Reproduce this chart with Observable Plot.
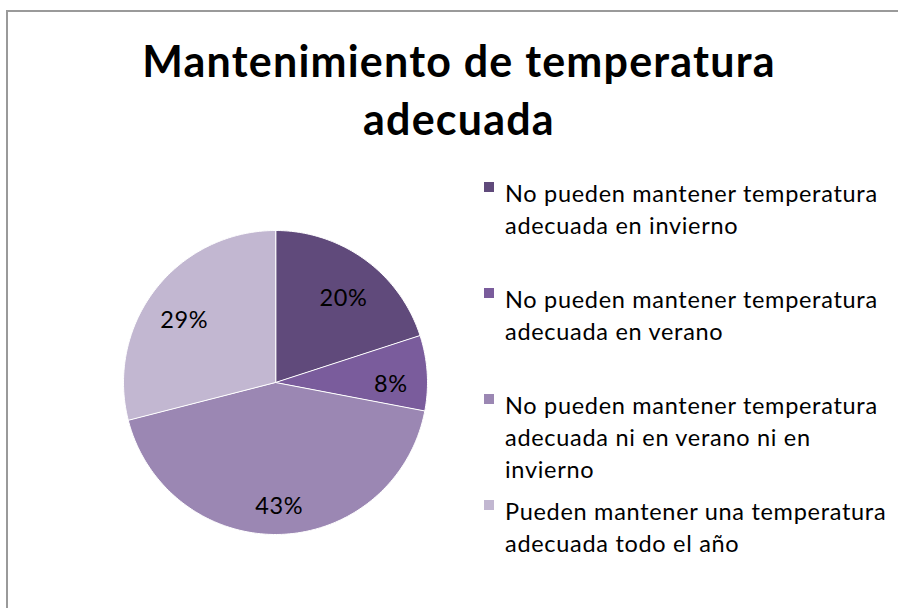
<!DOCTYPE html>
<html>
<head>
<meta charset="utf-8">
<script src="https://cdn.jsdelivr.net/npm/d3@7"></script>
<script src="https://cdn.jsdelivr.net/npm/@observablehq/plot@0.6"></script>
<style>
  html, body { margin: 0; padding: 0; background: #fff; }
  #wrap { position: relative; width: 898px; height: 608px; overflow: hidden; font-family: Lato, "Open Sans", sans-serif; }
  #frame { position: absolute; left: 6px; top: 10px; width: 1000px; height: 1000px; border: 2px solid #9a9a9a; box-sizing: border-box; }
  #chart { position: absolute; left: 0; top: 0; }
  #title { position: absolute; left: 20px; width: 878px; top: 32px; text-align: center; font-weight: bold; font-size: 43px; letter-spacing: 1.2px; line-height: 58px; color: #000; }
  #legend { position: absolute; left: 484px; top: 177px; }
  .entry { position: relative; height: 106px; }
  .sw { position: absolute; left: 0; top: 5px; width: 10px; height: 10px; }
  .lab { position: absolute; left: 21px; top: 0; white-space: pre; font-size: 23.5px; letter-spacing: 0.7px; line-height: 32px; color: #000; }
</style>
</head>
<body>
<div id="wrap">
  <div id="frame"></div>
  <div id="chart"></div>
  <div id="title"></div>
  <div id="legend"></div>
</div>
<script>
const title = "Mantenimiento de temperatura\nadecuada";
const categories = [
  "No pueden mantener temperatura adecuada en invierno",
  "No pueden mantener temperatura adecuada en verano",
  "No pueden mantener temperatura adecuada ni en verano ni en invierno",
  "Pueden mantener una temperatura adecuada todo el año"
];
const legendLabels = [
  "No pueden mantener temperatura\nadecuada en invierno",
  "No pueden mantener temperatura\nadecuada en verano",
  "No pueden mantener temperatura\nadecuada ni en verano ni en\ninvierno",
  "Pueden mantener una temperatura\nadecuada todo el año"
];
const values = [20, 8, 43, 29];
const valueLabels = ["20%", "8%", "43%", "29%"];
const colors = ["#604a7b", "#7a5c9c", "#9b87b3", "#c2b7d1"];

// slice geometry from values via d3.pie
const arcs = d3.pie().sort(null).value(d => d)(values);
const slicePts = [];
arcs.forEach((a, i) => {
  const cat = categories[i];
  slicePts.push({cat, x: 0, y: 0});
  const n = Math.max(2, Math.ceil((a.endAngle - a.startAngle) / (Math.PI / 180)));
  for (let k = 0; k <= n; k++) {
    const t = a.startAngle + (a.endAngle - a.startAngle) * k / n;
    slicePts.push({cat, x: Math.sin(t), y: Math.cos(t)});
  }
});
const labelR = 0.76;
const labelData = arcs.map((a, i) => {
  const t = (a.startAngle + a.endAngle) / 2;
  return {text: valueLabels[i], x: labelR * Math.sin(t), y: labelR * Math.cos(t)};
});

const plot = Plot.plot({
  width: 898,
  height: 608,
  marginLeft: 123,
  marginRight: 471,
  marginTop: 230,
  marginBottom: 74,
  x: {domain: [-1, 1], axis: null},
  y: {domain: [-1, 1], axis: null},
  color: {type: "ordinal", domain: categories, range: colors},
  style: {fontFamily: "Lato, 'Open Sans', sans-serif", background: "transparent"},
  marks: [
    Plot.line(slicePts, {x: "x", y: "y", z: "cat", fill: "cat", stroke: "white", strokeWidth: 1, curve: "linear-closed"}),
    Plot.text(labelData, {x: "x", y: "y", text: "text", fontSize: 23.5, letterSpacing: 0.6, dy: 9, fill: "black"})
  ]
});
plot.querySelectorAll("text").forEach(el => el.style.letterSpacing = "0.6px");
document.getElementById("chart").appendChild(plot);

const t = document.getElementById("title");
t.style.whiteSpace = "pre";
t.textContent = title;

const lg = document.getElementById("legend");
legendLabels.forEach((lab, i) => {
  const e = document.createElement("div");
  e.className = "entry";
  const sw = document.createElement("div");
  sw.className = "sw";
  sw.style.background = colors[i];
  const tx = document.createElement("div");
  tx.className = "lab";
  tx.textContent = lab;
  e.appendChild(sw); e.appendChild(tx);
  lg.appendChild(e);
});
</script>
</body>
</html>
